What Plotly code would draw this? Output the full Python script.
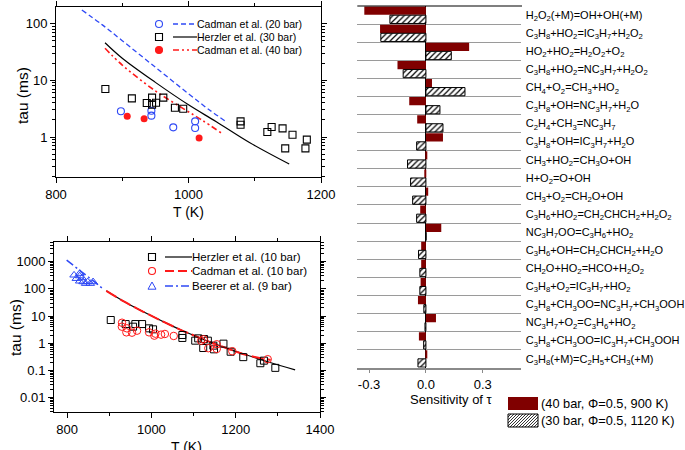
import re
import plotly.graph_objects as go

W, H = 685, 450
FONT = "Liberation Sans, Arial, sans-serif"

# ---------------- top-left panel data (30-40 bar) ----------------
c20_T = [898, 944, 944, 977, 1010, 1010]
c20_tau = [2.84, 2.9, 2.38, 1.48, 1.89, 1.44]
h30_T = [874.5, 914.5, 937, 945, 945, 951, 962, 979.5, 992, 1078.6, 1078.6, 1119, 1125.5, 1142, 1146, 1157, 1176.5, 1178.6]
h30_tau = [7.04, 4.8, 3.98, 4.95, 3.72, 4.03, 4.95, 3.29, 3.16, 1.89, 1.65, 1.23, 1.5, 1.42, 0.63, 1.1, 0.63, 0.9]
c40_T = [907.5, 933, 1016]
c40_tau = [2.32, 2.1, 0.96]

m_c20_T = [839, 870, 900, 950, 1000, 1030, 1057]
m_c20_tau = [174, 95, 50, 17, 5.8, 3.1, 1.86]
m_h30_T = [874, 900, 950, 1000, 1042, 1092, 1152]
m_h30_tau = [46, 24.5, 9.2, 3.7, 1.86, 0.8, 0.334]
m_c40_T = [874, 900, 950, 991.5, 1020, 1049]
m_c40_tau = [36.7, 18.6, 6.5, 3.2, 2.0, 1.19]

# ---------------- bottom-left panel data (10 bar) ----------------
h10_T = [903.6, 939, 956.5, 962, 978, 994.5, 1004, 1073.5, 1073.5, 1104, 1111, 1125, 1123, 1134, 1147, 1148.6, 1171, 1188, 1218, 1258.5, 1267, 1294]
h10_tau = [7.18, 5.1, 4.08, 5.1, 5.1, 3.55, 3.26, 2.02, 1.57, 1.25, 1.52, 1.44, 0.67, 1.25, 0.82, 0.6, 0.97, 0.49, 0.31, 0.185, 0.23, 0.125]
c10_T = [930.4, 930, 940.7, 942, 954, 966, 994.5, 1007, 1009.5, 1023, 1032, 1053, 1118, 1124, 1135, 1155, 1155, 1192, 1276]
c10_tau = [5.7, 4.08, 2.53, 3.55, 2.46, 2.91, 2.53, 1.91, 2.26, 2.08, 2.2, 1.86, 1.25, 1.4, 0.66, 0.92, 0.62, 0.51, 0.26]
b9_T = [816.6, 822, 830, 830, 830, 835.5, 838, 844, 849, 855, 861.7]
b9_tau = [320, 240, 370, 300, 193, 255, 182, 158, 182, 158, 182]

m_b9_T = [799, 830, 860, 886]
m_b9_tau = [1140, 480, 210, 98]
m_h10_T = [893, 937, 981, 1025, 1068, 1108, 1147, 1186, 1226, 1280, 1341]
m_h10_tau = [85, 33, 14.4, 6.6, 3.2, 1.75, 1.0, 0.6, 0.37, 0.2, 0.105]
m_c10_T = [893, 937, 981, 1025, 1068, 1108, 1147, 1186, 1226, 1283]
m_c10_tau = [85, 33, 14.4, 6.6, 3.2, 1.75, 1.0, 0.6, 0.37, 0.245]

# ---------------- right panel data (sensitivity) ----------------
reactions = [
    "H2O2(+M)=OH+OH(+M)",
    "C3H8+HO2=IC3H7+H2O2",
    "HO2+HO2=H2O2+O2",
    "C3H8+HO2=NC3H7+H2O2",
    "CH4+O2=CH3+HO2",
    "C3H8+OH=NC3H7+H2O",
    "C2H4+CH3=NC3H7",
    "C3H8+OH=IC3H7+H2O",
    "CH3+HO2=CH3O+OH",
    "H+O2=O+OH",
    "CH3+O2=CH2O+OH",
    "C3H6+HO2=CH2CHCH2+H2O2",
    "NC3H7OO=C3H6+HO2",
    "C3H6+OH=CH2CHCH2+H2O",
    "CH2O+HO2=HCO+H2O2",
    "C3H8+O2=IC3H7+HO2",
    "C3H8+CH3OO=NC3H7+CH3OOH",
    "NC3H7+O2=C3H6+HO2",
    "C3H8+CH3OO=IC3H7+CH3OOH",
    "C3H8(+M)=C2H5+CH3(+M)",
]
sens_40bar = [-0.325, -0.242, 0.228, -0.15, 0.032, -0.088, -0.046, 0.09, 0.003, -0.004,
              0.012, -0.03, 0.081, -0.025, -0.025, -0.028, -0.042, 0.053, -0.037, 0.003]
sens_30bar = [-0.19, -0.238, 0.134, -0.12, 0.206, 0.074, 0.09, -0.049, -0.097, -0.081,
              -0.07, -0.049, 0.001, -0.039, -0.032, -0.032, -0.011, -0.005, -0.012, -0.042]
sens_ticks = [-0.3, 0.0, 0.3]
sens_ticktext = ["-0.3", "0.0", "0.3"]

BLUE = "#2f49f5"
RED = "#ff1a1a"
DARKRED = "#800000"


def sub(s):
    return re.sub(r"(\d+)", r"<sub>\1</sub>", s)


def px(x):
    return x / W


def py(y):
    return 1 - y / H


fig = go.Figure()

# top panel
fig.add_trace(go.Scatter(x=m_c20_T, y=m_c20_tau, mode="lines", line=dict(color=BLUE, width=1.3, dash="5px,3px"),
                         line_shape="spline", xaxis="x", yaxis="y", showlegend=False))
fig.add_trace(go.Scatter(x=m_h30_T, y=m_h30_tau, mode="lines", line=dict(color="black", width=1.2),
                         line_shape="spline", xaxis="x", yaxis="y", showlegend=False))
fig.add_trace(go.Scatter(x=m_c40_T, y=m_c40_tau, mode="lines", line=dict(color=RED, width=1.6, dash="6px,3px,2px,3px,2px,3px"),
                         line_shape="spline", xaxis="x", yaxis="y", showlegend=False))
fig.add_trace(go.Scatter(x=c20_T, y=c20_tau, mode="markers",
                         marker=dict(symbol="circle-open", size=7, color=BLUE, line=dict(width=1.1)),
                         xaxis="x", yaxis="y", showlegend=False))
fig.add_trace(go.Scatter(x=h30_T, y=h30_tau, mode="markers",
                         marker=dict(symbol="square-open", size=7, color="black", line=dict(width=1.1)),
                         xaxis="x", yaxis="y", showlegend=False))
fig.add_trace(go.Scatter(x=c40_T, y=c40_tau, mode="markers",
                         marker=dict(symbol="circle", size=7, color=RED, line=dict(width=0)),
                         xaxis="x", yaxis="y", showlegend=False))

# bottom panel
fig.add_trace(go.Scatter(x=m_h10_T, y=m_h10_tau, mode="lines", line=dict(color="black", width=1.2),
                         line_shape="spline", xaxis="x2", yaxis="y2", showlegend=False))
fig.add_trace(go.Scatter(x=m_c10_T, y=m_c10_tau, mode="lines", line=dict(color=RED, width=2, dash="12px,4px"),
                         line_shape="spline", xaxis="x2", yaxis="y2", showlegend=False))
fig.add_trace(go.Scatter(x=m_b9_T, y=m_b9_tau, mode="lines", line=dict(color=BLUE, width=1.5, dash="8px,3px,2px,3px"),
                         line_shape="spline", xaxis="x2", yaxis="y2", showlegend=False))
fig.add_trace(go.Scatter(x=h10_T, y=h10_tau, mode="markers",
                         marker=dict(symbol="square-open", size=7, color="black", line=dict(width=1)),
                         xaxis="x2", yaxis="y2", showlegend=False))
fig.add_trace(go.Scatter(x=c10_T, y=c10_tau, mode="markers",
                         marker=dict(symbol="circle-open", size=7.5, color=RED, line=dict(width=1)),
                         xaxis="x2", yaxis="y2", showlegend=False))
fig.add_trace(go.Scatter(x=b9_T, y=b9_tau, mode="markers",
                         marker=dict(symbol="triangle-up-open", size=7.5, color=BLUE, line=dict(width=1)),
                         xaxis="x2", yaxis="y2", showlegend=False))

# right panel bars
idx = list(range(len(reactions)))
fig.add_trace(go.Bar(y=idx, x=sens_40bar, orientation="h", marker=dict(color=DARKRED, line=dict(width=0)),
                     xaxis="x3", yaxis="y3", showlegend=False))
fig.add_trace(go.Bar(y=idx, x=sens_30bar, orientation="h",
                     marker=dict(color="white", line=dict(color="black", width=1),
                                 pattern=dict(shape="/", fgcolor="black", bgcolor="white", size=4, solidity=0.3)),
                     xaxis="x3", yaxis="y3", showlegend=False))

tickfont = dict(family=FONT, size=13, color="black")
common_log_y = dict(type="log", showline=True, linecolor="black", linewidth=1, mirror="ticks", automargin=False,
                    ticks="outside", ticklen=5, tickcolor="black", showgrid=False, zeroline=False,
                    tickfont=tickfont,
                    minor=dict(tickmode="linear", dtick="D1", ticks="outside", ticklen=3, tickcolor="black", showgrid=False))
common_x = dict(showline=True, linecolor="black", linewidth=1, mirror="ticks", ticks="outside", ticklen=5,
                tickcolor="black", showgrid=False, zeroline=False, tickfont=tickfont, automargin=False,
                minor=dict(ticks="outside", ticklen=3, tickcolor="black", dtick=100, showgrid=False))

fig.update_layout(
    template="none",
    width=W, height=H, margin=dict(l=0, r=0, t=0, b=0, autoexpand=False),
    paper_bgcolor="white", plot_bgcolor="white",
    font=dict(family=FONT, color="black"),
    barmode="group", bargap=0.05, bargroupgap=0.04,
    xaxis=dict(common_x, domain=[px(56), px(321)], range=[800, 1200], tickvals=[800, 1000, 1200], anchor="y"),
    yaxis=dict(common_log_y, domain=[py(177), py(7)], range=[-0.705, 2.293], tickvals=[1, 10, 100],
               ticktext=["1", "10", "100"], anchor="x"),
    xaxis2=dict(common_x, domain=[px(54), px(320)], range=[769, 1400], tickvals=[800, 1000, 1200, 1400], anchor="y2"),
    yaxis2=dict(common_log_y, domain=[py(412), py(242)], range=[-2.526, 3.724],
                tickvals=[0.01, 0.1, 1, 10, 100, 1000], ticktext=["0.01", "0.1", "1", "10", "100", "1000"], anchor="x2"),
    xaxis3=dict(domain=[px(357.3), px(520.7)], range=[-0.362, 0.5], anchor="y3", automargin=False,
                tickvals=sens_ticks, ticktext=sens_ticktext, tickfont=tickfont,
                showline=True, linecolor="#8a8a8a", linewidth=1.5, ticks="outside", ticklen=4, tickcolor="#8a8a8a",
                showgrid=False, zeroline=True, zerolinecolor="black", zerolinewidth=1.2),
    yaxis3=dict(domain=[py(367.7), py(6)], range=[len(reactions) - 0.5, -0.5], anchor="x3", side="right",
                automargin=False,
                tickmode="array", tickvals=idx, ticktext=[sub(r) for r in reactions],
                tickfont=dict(family=FONT, size=11, color="black"), ticks="", ticklabelstandoff=4,
                showline=False, showgrid=False, zeroline=False,
                minor=dict(tickmode="linear", tick0=0.5, dtick=1, showgrid=True, gridcolor="#9a9a9a", gridwidth=1, ticks="")),
)

shapes = []
annotations = []

# top line of the sensitivity panel
shapes.append(dict(type="line", xref="paper", yref="paper", x0=px(357.3), x1=px(522), y0=py(6), y1=py(6),
                   line=dict(color="black", width=1.2)))


def legend_line(x0, x1, y, color, dash, width):
    shapes.append(dict(type="line", xref="paper", yref="paper", x0=px(x0), x1=px(x1), y0=py(y), y1=py(y),
                       line=dict(color=color, width=width, dash=dash)))


def legend_circle(x, y, r, color, filled):
    shapes.append(dict(type="circle", xref="paper", yref="paper", x0=px(x - r), x1=px(x + r), y0=py(y + r), y1=py(y - r),
                       line=dict(color=color, width=1.1), fillcolor=color if filled else "rgba(0,0,0,0)"))


def legend_square(x, y, r, color):
    shapes.append(dict(type="rect", xref="paper", yref="paper", x0=px(x - r), x1=px(x + r), y0=py(y + r), y1=py(y - r),
                       line=dict(color=color, width=1.1), fillcolor="rgba(0,0,0,0)"))


def legend_triangle(x, y, r, color):
    path = "M {} {} L {} {} L {} {} Z".format(px(x), py(y - r), px(x + r), py(y + r * 0.8), px(x - r), py(y + r * 0.8))
    shapes.append(dict(type="path", xref="paper", yref="paper", path=path, line=dict(color=color, width=1),
                       fillcolor="rgba(0,0,0,0)"))


def legend_text(x, y, text, size):
    annotations.append(dict(xref="paper", yref="paper", x=px(x), y=py(y), text=text, showarrow=False,
                            xanchor="left", yanchor="middle", font=dict(family=FONT, size=size, color="black")))


# top legend
legend_circle(159, 24, 3.5, BLUE, False)
legend_line(173, 197, 24, BLUE, "5px,3px", 1.3)
legend_text(195, 24, "Cadman et al. (20 bar)", 10.5)
legend_square(159, 37, 3.5, "black")
legend_line(173, 197, 37, "black", "solid", 1.2)
legend_text(195, 37, "Herzler et al. (30 bar)", 10.5)
legend_circle(159, 50, 3.5, RED, True)
legend_line(173, 197, 50, RED, "6px,3px,2px,3px,2px,3px", 1.6)
legend_text(195, 50, "Cadman et al. (40 bar)", 10.5)

# bottom legend
legend_square(152, 257, 3.5, "black")
legend_line(165, 192, 257, "black", "solid", 1.2)
legend_text(190, 257, "Herzler et al. (10 bar)", 11.5)
legend_circle(152, 271, 3.5, RED, False)
legend_line(165, 192, 271, RED, "9px,4px", 1.8)
legend_text(190, 271, "Cadman et al. (10 bar)", 11.5)
legend_triangle(152, 286, 4, BLUE)
legend_line(165, 192, 286, BLUE, "8px,3px,2px,3px", 1.5)
legend_text(190, 286, "Beerer et al. (9 bar)", 11.5)

# right legend
shapes.append(dict(type="rect", xref="paper", yref="paper", x0=px(508), x1=px(538), y0=py(410), y1=py(397),
                   line=dict(width=0), fillcolor=DARKRED))
bx0, bx1, by0, by1 = 508, 538, 414, 427
hh = by1 - by0
segs = []
k = bx0 - hh
while k < bx1:
    t0 = max(0, bx0 - k)
    t1 = min(hh, bx1 - k)
    if t1 > t0:
        segs.append("M {:.5f} {:.5f} L {:.5f} {:.5f}".format(px(k + t0), py(by1 - t0), px(k + t1), py(by1 - t1)))
    k += 3
shapes.append(dict(type="path", xref="paper", yref="paper", path=" ".join(segs), line=dict(color="black", width=0.8)))
shapes.append(dict(type="rect", xref="paper", yref="paper", x0=px(bx0), x1=px(bx1), y0=py(by1), y1=py(by0),
                   line=dict(color="black", width=1), fillcolor="rgba(0,0,0,0)"))
legend_text(539, 403.5, "(40 bar, \u03a6=0.5, 900 K)", 12.8)
legend_text(539, 420.5, "(30 bar, \u03a6=0.5, 1120 K)", 12.8)


# axis titles
def title(x, y, text, size, angle=0):
    annotations.append(dict(xref="paper", yref="paper", x=px(x), y=py(y), text=text, showarrow=False,
                            xanchor="center", yanchor="middle", textangle=angle,
                            font=dict(family=FONT, size=size, color="black")))


title(188.5, 212, "T (K)", 14)
title(22, 96, "tau (ms)", 15.5, -90)
title(187, 447, "T (K)", 14)
title(15, 328, "tau (ms)", 15.5, -90)
title(452, 399, "Sensitivity of \u03c4", 13)

fig.update_layout(shapes=shapes, annotations=annotations)
fig.write_html("out.html", config={"displayModeBar": False},
               post_script="document.body.style.margin='0px';document.body.style.overflow='hidden';")
